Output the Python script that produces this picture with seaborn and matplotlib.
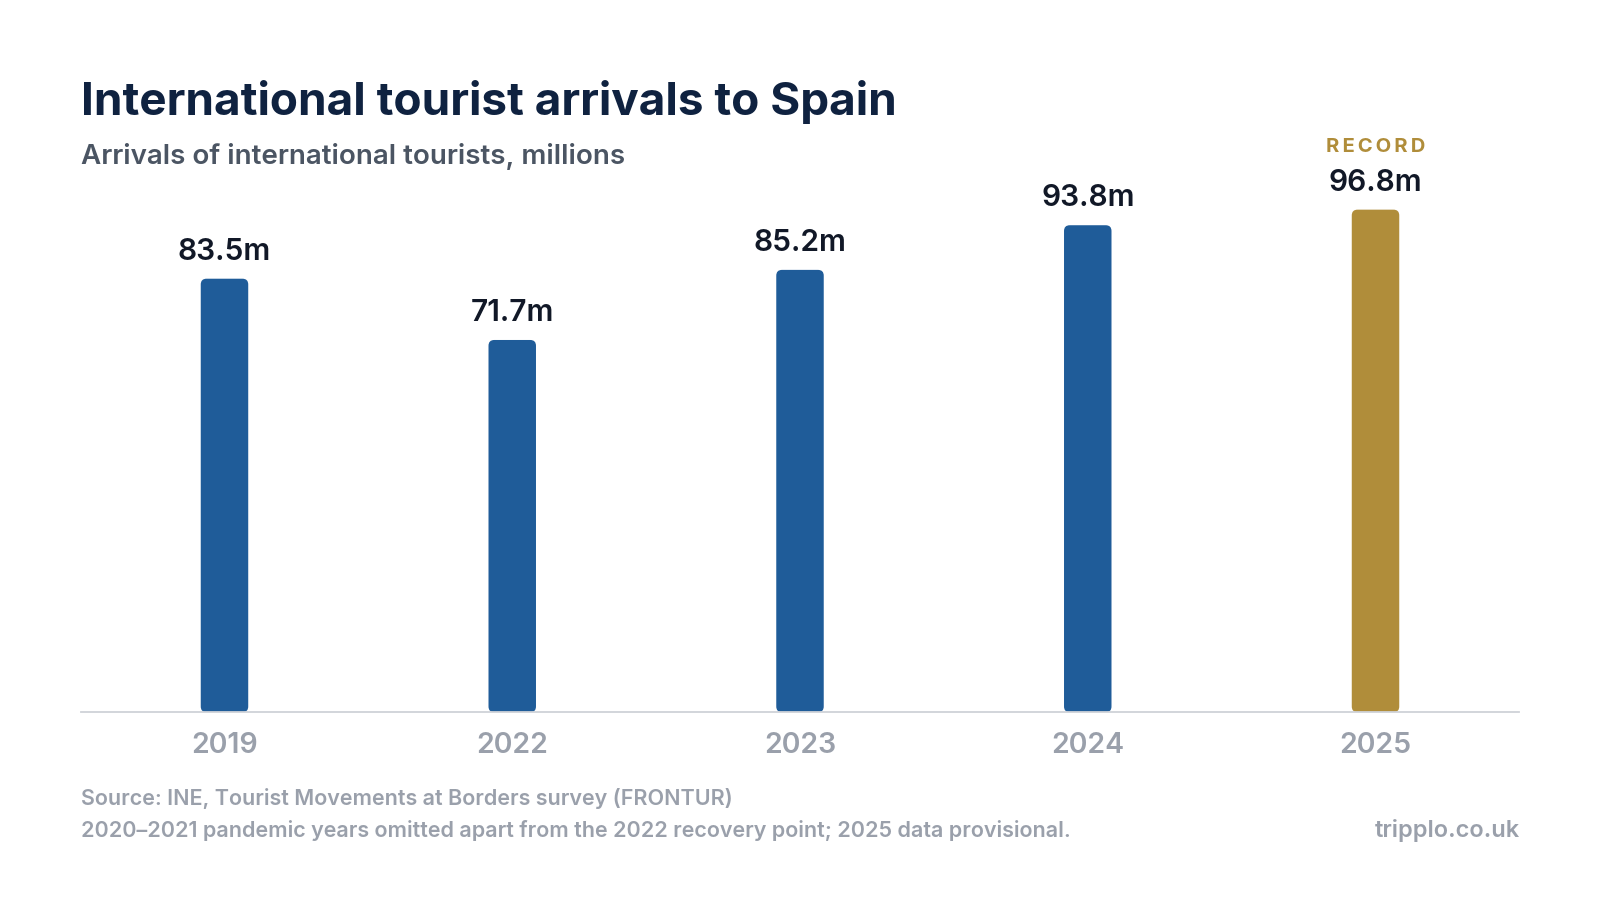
import matplotlib
matplotlib.use("Agg")
import matplotlib.pyplot as plt
import seaborn as sns
import pandas as pd
from matplotlib.patches import FancyBboxPatch

years = ["2019", "2022", "2023", "2024", "2025"]
arrivals = [83.5, 71.7, 85.2, 93.8, 96.8]
bar_colors = ["#1f5c99", "#1f5c99", "#1f5c99", "#1f5c99", "#b08d3a"]

sns.set_theme(style="white")
plt.rcParams["font.family"] = ["Inter", "DejaVu Sans"]

W, H = 1568, 882
fig = plt.figure(figsize=(16, 9), dpi=100)
ax = fig.add_axes([79 / W, 1 - 698 / H, 1410 / W, 548 / H])

df = pd.DataFrame({"year": years, "arrivals": arrivals})
sns.barplot(data=df, x="year", y="arrivals", hue="year", palette=bar_colors,
            legend=False, width=0.165, ax=ax, saturation=1)

ymax = 107.7
ax.set_xlim(-0.5, 4.5)
ax.set_ylim(0, ymax)

# swap plain bars for slightly rounded ones
aspect = (ymax / 548) / (5 / 1410)
for p in list(ax.patches):
    x, w, h = p.get_x(), p.get_width(), p.get_height()
    fc = p.get_facecolor()
    p.remove()
    ax.add_patch(FancyBboxPatch((x, 0), w, h, boxstyle="round,pad=0,rounding_size=0.02",
                                mutation_aspect=aspect, fc=fc, ec="none"))

for i, v in enumerate(arrivals):
    ax.text(i, v + 2.5, f"{v}m", ha="center", va="bottom", fontsize=21.5,
            fontweight="semibold", color="#111827")
ax.text(4, arrivals[4] + 10.3, "R\u2009E\u2009C\u2009O\u2009R\u2009D", ha="center", va="bottom",
        fontsize=14.5, fontweight="bold", color="#b08d3a")

for s in ["top", "right", "left"]:
    ax.spines[s].set_visible(False)
ax.spines["bottom"].set_color("#cfd2d8")
ax.spines["bottom"].set_linewidth(1.3)
ax.set_yticks([])
ax.set_xlabel("")
ax.set_ylabel("")
ax.tick_params(axis="x", length=0, pad=14, labelsize=20.5, labelcolor="#9aa0ab")
for t in ax.get_xticklabels():
    t.set_fontweight("semibold")

fig.text(79 / W, 1 - 100 / H, "International tourist arrivals to Spain", fontsize=33,
         fontweight="bold", color="#0f2240", va="center")
fig.text(79 / W, 1 - 153 / H, "Arrivals of international tourists, millions", fontsize=20,
         fontweight="semibold", color="#4b5563", va="center")
fig.text(79 / W, 1 - 783 / H, "Source: INE, Tourist Movements at Borders survey (FRONTUR)",
         fontsize=15.5, fontweight="semibold", color="#9aa0ab", va="center")
fig.text(79 / W, 1 - 814 / H,
         "2020\u20132021 pandemic years omitted apart from the 2022 recovery point; 2025 data provisional.",
         fontsize=15.5, fontweight="semibold", color="#9aa0ab", va="center")
fig.text(1489 / W, 1 - 814 / H, "tripplo.co.uk", fontsize=17, fontweight="semibold",
         color="#9aa0ab", va="center", ha="right")

fig.savefig("out.png", dpi=100, facecolor="white")
